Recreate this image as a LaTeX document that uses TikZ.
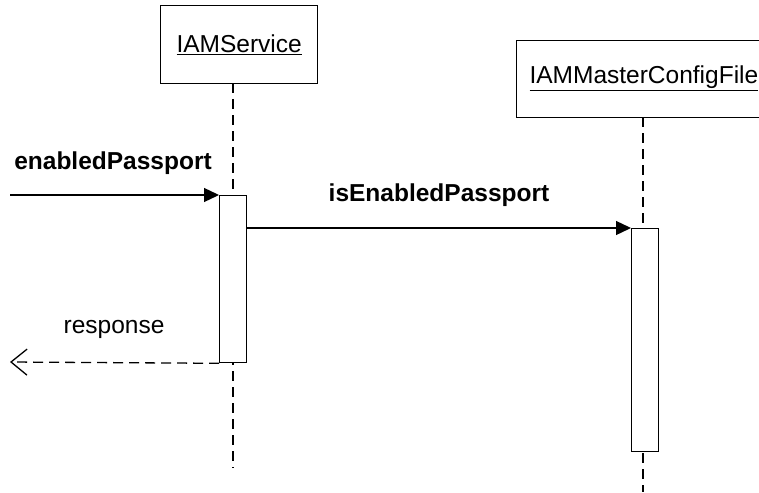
\documentclass[tikz,border=0pt]{standalone}
\usepackage{fontspec}
\setmainfont{Liberation Sans}
\usetikzlibrary{arrows.meta}
\begin{document}
\begin{tikzpicture}[x=1pt,y=-1pt,
  lw/.style={line width=1.3pt},
  objbox/.style={draw,lw,fill=white,anchor=north west,inner sep=0pt},
  actbox/.style={draw,lw,fill=white,anchor=north west,inner sep=0pt,minimum width=27pt},
  lifeline/.style={lw,dash pattern=on 10pt off 6pt},
  msg/.style={font=\fontsize{24.5}{28}\selectfont},
  call/.style={lw,-{Triangle[length=15pt,width=14pt]}},
  reply/.style={lw,dash pattern=on 10pt off 6pt,-{Straight Barb[length=16pt,width=26pt,line width=1.3pt]}}]
\useasboundingbox (0,0) rectangle (759,492);
\clip (0,0) rectangle (759,492);
% lifelines (drawn first, boxes cover them)
\coordinate (svcTop) at (233,83);
\coordinate (svcEnd) at (233,468);
\coordinate (cfgTop) at (643,117);
\coordinate (cfgEnd) at (643,492);
\draw[lifeline] (svcTop) -- (svcEnd);
\draw[lifeline] (cfgTop) -- (cfgEnd);
% object boxes
\node[objbox,minimum width=157pt,minimum height=78pt] (svc) at (160,5) {};
\node[msg] at (svc.center) {\underline{IAMService}};
\node[objbox,minimum width=280pt,minimum height=77pt] (cfg) at (516,40) {};
\node[msg,anchor=west] at (526,78) {\underline{IAMMasterConfigFile}};
% activations
\node[actbox,minimum height=167pt] (actSvc) at (219,195) {};
\node[actbox,minimum height=223pt] (actCfg) at (631,228) {};
% messages
\coordinate (caller) at (10,195);
\coordinate (back) at (10,362);
\draw[call] (caller) -- (actSvc.north west);
\node[msg,font=\bfseries\fontsize{24.5}{28}\selectfont] at (113,163) {enabledPassport};
\draw[call] (actSvc.east |- 0,228) -- (actCfg.north west);
\node[msg,font=\bfseries\fontsize{24.5}{28}\selectfont] at (439,195) {isEnabledPassport};
\draw[reply] (actSvc.south west) -- (back);
\node[msg] at (114,329) {response};
\end{tikzpicture}
\end{document}
